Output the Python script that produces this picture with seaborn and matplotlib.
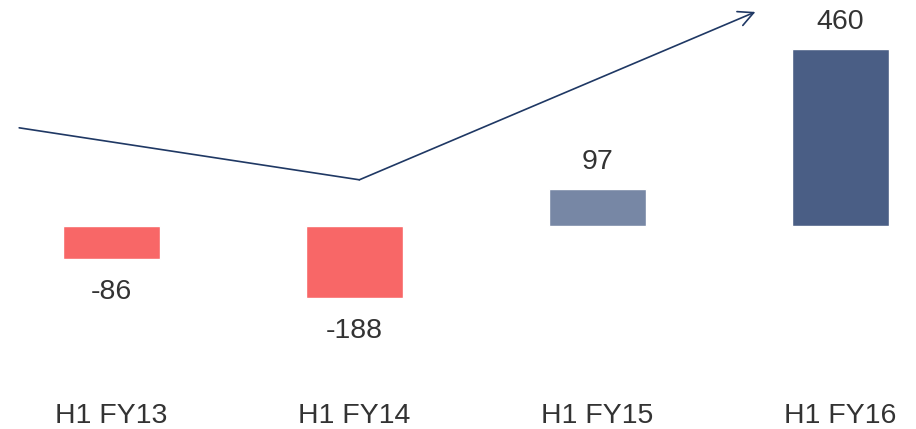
import matplotlib
matplotlib.use("Agg")
import matplotlib.pyplot as plt
import seaborn as sns

periodos = ["H1 FY13", "H1 FY14", "H1 FY15", "H1 FY16"]
valores = [-86, -188, 97, 460]
colores = ["#F86767", "#F86767", "#7787A5", "#4A5E85"]

# flecha de tendencia (decorativa), en coordenadas de datos
tendencia_x = [-0.38, 1.02, 2.65]
tendencia_y = [255, 120, 556]

sns.set_theme(style="white")
plt.rcParams["font.family"] = ["Liberation Sans", "DejaVu Sans"]

fig = plt.figure(figsize=(9.16, 4.29), dpi=100)
ax = fig.add_axes([0, 0.0909, 1, 0.9091])

sns.barplot(x=periodos, y=valores, hue=periodos, palette=colores,
            width=0.4, legend=False, saturation=1, ax=ax)

for i, v in enumerate(valores):
    if v >= 0:
        ax.annotate(f"{v}", (i, v), xytext=(0, 10), textcoords="offset points",
                    ha="center", va="bottom", fontsize=20.5, color="#333333")
    else:
        ax.annotate(f"{v}", (i, v), xytext=(0, -14), textcoords="offset points",
                    ha="center", va="top", fontsize=20.5, color="#333333")

ax.plot(tendencia_x[:2], tendencia_y[:2], color="#1F3864", lw=1.2)
ax.annotate("", xy=(tendencia_x[2], tendencia_y[2]),
            xytext=(tendencia_x[1], tendencia_y[1]),
            arrowprops=dict(arrowstyle="->,head_length=0.9,head_width=0.45",
                            color="#1F3864", lw=1.2, shrinkA=0, shrinkB=0))

ax.set_xlim(-0.459, 3.311)
ax.set_ylim(-426, 587)
ax.set_yticks([])
ax.tick_params(axis="x", length=0, pad=9, labelsize=20.5, labelcolor="#333333")
ax.set_xlabel("")
ax.set_ylabel("")
sns.despine(ax=ax, left=True, bottom=True, top=True, right=True)

fig.savefig("out.png", dpi=100)
